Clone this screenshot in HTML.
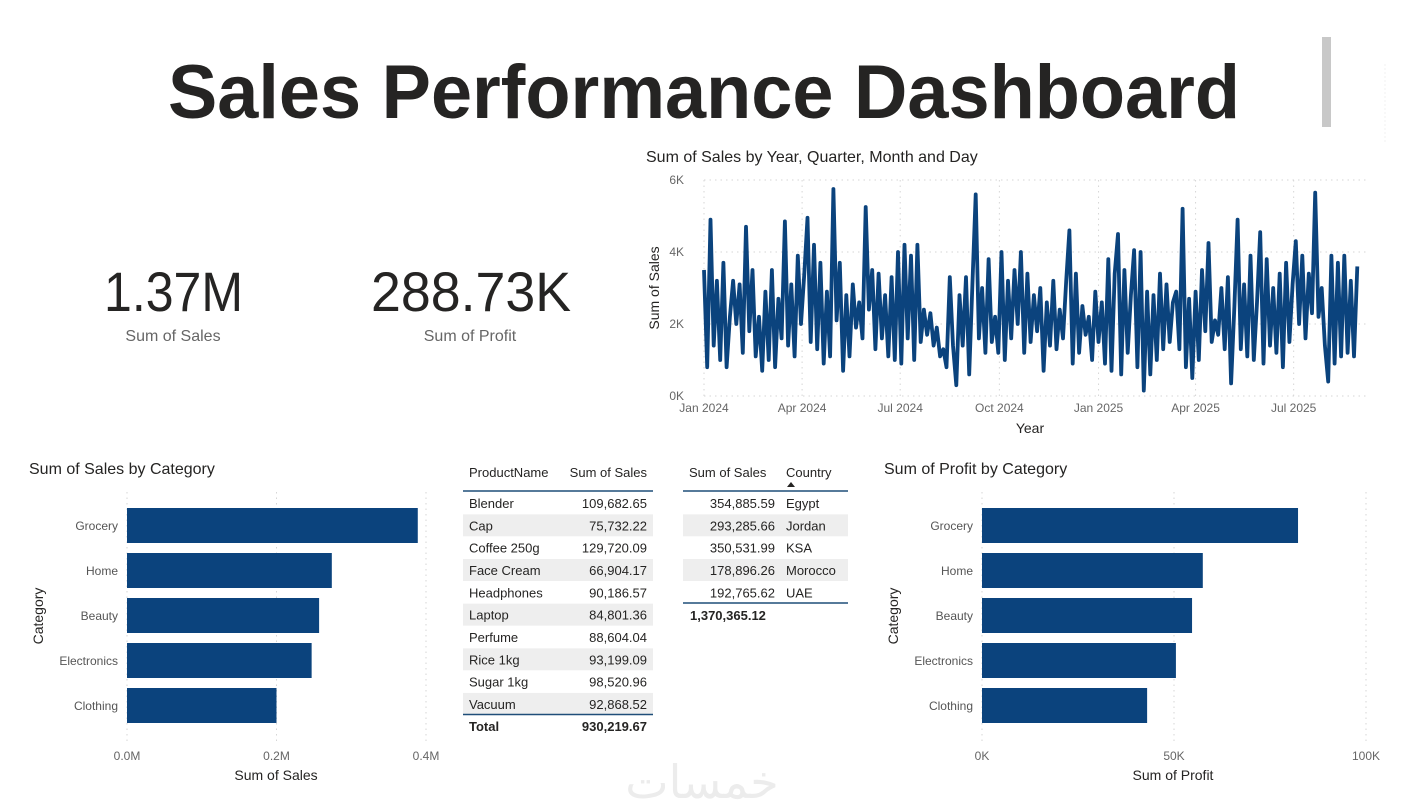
<!DOCTYPE html>
<html><head><meta charset="utf-8"><style>
html,body{margin:0;padding:0;background:#fff;}
svg{display:block;font-family:"Liberation Sans","Noto Sans CJK SC",sans-serif;}
</style></head><body>
<svg id="dash" width="1408" height="810" viewBox="0 0 1408 810" xmlns="http://www.w3.org/2000/svg">
<rect x="0" y="0" width="1408" height="810" fill="#fff"/>
<text x="168" y="118" font-size="76" font-weight="bold" fill="#252423" textLength="1072" lengthAdjust="spacingAndGlyphs">Sales Performance Dashboard</text>
<rect x="1322" y="37" width="9" height="90" fill="#c8c8c8"/>
<line x1="1385" y1="64" x2="1385" y2="144" stroke="#f0f0f0" stroke-dasharray="2,2"/>

<g>
<text x="104" y="311" font-size="56" fill="#252423" textLength="139" lengthAdjust="spacingAndGlyphs">1.37M</text>
<text x="173" y="341" font-size="16" fill="#666" text-anchor="middle">Sum of Sales</text>
</g>
<g>
<text x="371" y="311" font-size="56" fill="#252423" textLength="200" lengthAdjust="spacingAndGlyphs">288.73K</text>
<text x="470" y="341" font-size="16" fill="#666" text-anchor="middle">Sum of Profit</text>
</g>

<g id="line-chart">
<text x="646" y="162" font-size="16" fill="#252423">Sum of Sales by Year, Quarter, Month and Day</text>
<text x="1030" y="433" font-size="14" fill="#252423" text-anchor="middle">Year</text>
<text transform="translate(659,288) rotate(-90)" font-size="14" fill="#252423" text-anchor="middle">Sum of Sales</text>
</g>

<g id="bar-sales">
<text x="29" y="474" font-size="16" fill="#252423">Sum of Sales by Category</text>
<text transform="translate(43,616) rotate(-90)" font-size="14" fill="#252423" text-anchor="middle">Category</text>
<text x="276" y="780" font-size="14" fill="#252423" text-anchor="middle">Sum of Sales</text>
</g>
<g id="bar-profit">
<text x="884" y="474" font-size="16" fill="#252423">Sum of Profit by Category</text>
<text transform="translate(898,616) rotate(-90)" font-size="14" fill="#252423" text-anchor="middle">Category</text>
<text x="1173" y="780" font-size="14" fill="#252423" text-anchor="middle">Sum of Profit</text>
</g>

<g id="table-products"></g>
<g id="table-country"></g>

<text x="702" y="798" font-size="46" fill="#ececec" text-anchor="middle" font-family="'Noto Sans CJK SC',sans-serif">خمسات</text>
</svg>
<script>
const NS='http://www.w3.org/2000/svg';
function mk(parent,tag,attrs,text){const e=document.createElementNS(NS,tag);for(const k in attrs)e.setAttribute(k,attrs[k]);if(text!==undefined)e.textContent=text;parent.appendChild(e);return e;}

// ---- Line chart data (thousands, 3-day steps from Jan 1 2024) ----
const dailySalesK=[3.5,0.8,4.9,1.4,3.2,1.0,3.7,0.8,2.2,3.2,
2.0,3.1,1.2,4.7,1.8,3.5,1.1,2.2,0.7,2.9,
1.0,3.5,0.8,2.7,1.6,4.85,1.4,3.1,1.1,3.9,
2.0,3.4,4.95,1.5,4.2,1.3,3.7,0.9,2.9,1.1,
5.75,2.1,3.7,0.7,2.8,1.1,3.1,1.9,2.6,1.6,
5.25,2.4,3.5,1.3,3.4,1.6,2.8,1.1,3.3,1.0,
4.0,0.9,4.2,1.6,3.9,1.0,4.2,1.5,2.4,1.7,
2.3,1.4,1.9,1.1,1.3,0.8,3.3,1.4,0.3,2.8,
1.4,3.3,0.6,3.1,5.6,1.6,3.0,1.2,3.8,1.5,
2.2,1.2,4.0,1.0,3.2,1.6,3.5,2.0,4.0,1.2,
3.4,1.5,2.8,1.8,3.0,0.7,2.6,1.4,3.2,1.3,
2.4,1.6,3.2,4.6,0.9,3.4,1.2,2.5,1.7,2.2,
1.0,2.9,1.5,2.6,0.9,3.8,0.7,3.4,4.5,0.6,
3.5,1.2,2.8,4.05,0.8,4.0,0.15,2.9,0.6,2.8,
1.0,3.4,1.3,3.1,1.5,2.6,2.9,1.3,5.2,0.8,
2.7,0.5,2.9,1.0,3.5,1.8,4.25,1.5,2.1,1.7,
3.0,1.3,3.3,0.35,2.5,4.9,1.3,3.1,1.1,3.9,
1.0,2.6,4.55,0.9,3.8,1.4,3.0,1.2,3.4,0.8,
3.7,1.5,3.1,4.3,2.0,3.9,1.6,3.4,2.3,5.65,
2.2,3.0,1.4,0.4,3.9,0.9,3.7,1.1,3.9,1.2,
3.2,1.1,3.6];
const dayStep=3;
const yTicksK=[0,2,4,6];
const yTickLabels=['0K','2K','4K','6K'];
const xTickDays=[0,91,182,274,366,456,547];
const xTickLabels=['Jan 2024','Apr 2024','Jul 2024','Oct 2024','Jan 2025','Apr 2025','Jul 2025'];

// ---- Bar chart data ----
const categories=['Grocery','Home','Beauty','Electronics','Clothing'];
const salesByCategoryM=[0.389,0.274,0.257,0.247,0.200];
const salesTicks=[0,0.2,0.4];
const salesTickLabels=['0.0M','0.2M','0.4M'];
const profitByCategoryK=[82.3,57.5,54.7,50.5,43.0];
const profitTicks=[0,50,100];
const profitTickLabels=['0K','50K','100K'];

// ---- Table data ----
const products=['Blender','Cap','Coffee 250g','Face Cream','Headphones','Laptop','Perfume','Rice 1kg','Sugar 1kg','Vacuum'];
const productSales=['109,682.65','75,732.22','129,720.09','66,904.17','90,186.57','84,801.36','88,604.04','93,199.09','98,520.96','92,868.52'];
const countries=['Egypt','Jordan','KSA','Morocco','UAE'];
const countrySales=['354,885.59','293,285.66','350,531.99','178,896.26','192,765.62'];

// Line chart
(function(){
  const g=document.getElementById('line-chart');
  const x0=704,pxPerDay=1.078,yBase=396,pxPerK=36;
  const xs=d=>x0+d*pxPerDay, ys=v=>yBase-v*pxPerK;
  yTicksK.forEach((t,i)=>{
    const l=mk(g,'line',{x1:704,x2:1366,y1:ys(t),y2:ys(t),stroke:'#d6d6d6','stroke-dasharray':'1.5,4'});
    
    
    const tx=mk(g,'text',{x:684,y:ys(t)+4,'font-size':12,fill:'#666','text-anchor':'end'},yTickLabels[i]);
    
    
  });
  xTickDays.forEach((d,i)=>{
    const l=mk(g,'line',{x1:xs(d),x2:xs(d),y1:180,y2:396,stroke:'#d6d6d6','stroke-dasharray':'1.5,4'});
    
    
    const tx=mk(g,'text',{x:xs(d),y:412,'font-size':12,fill:'#666','text-anchor':'middle'},xTickLabels[i]);
    
    
  });
  const pts=dailySalesK.map((v,i)=>xs(i*dayStep).toFixed(1)+','+ys(v).toFixed(1)).join(' ');
  const pl=mk(g,'polyline',{points:pts,fill:'none',stroke:'#0b437d','stroke-width':3.8,'stroke-linejoin':'round'});
  
  
})();

function barChart(gid,values,ticks,tickLabels,x0,pxPerUnit,labelX){
  const g=document.getElementById(gid);
  ticks.forEach((t,i)=>{
    const x=x0+t*pxPerUnit;
    const l=mk(g,'line',{x1:x,x2:x,y1:492,y2:742,stroke:'#d6d6d6','stroke-dasharray':'1.5,4'});
    
    
    const tx=mk(g,'text',{x:x,y:760,'font-size':12,fill:'#666','text-anchor':'middle'},tickLabels[i]);
    
    
  });
  categories.forEach((c,i)=>{
    const yTop=508+i*45;
    const r=mk(g,'rect',{x:x0,y:yTop,width:values[i]*pxPerUnit,height:35,fill:'#0b437d'});
    
    
    const tx=mk(g,'text',{x:labelX,y:yTop+22,'font-size':12,fill:'#555','text-anchor':'end'},c);
    
    
  });
}
barChart('bar-sales',salesByCategoryM,salesTicks,salesTickLabels,127,747.5,118);
barChart('bar-profit',profitByCategoryK,profitTicks,profitTickLabels,982,3.84,973);

// Product table
(function(){
  const g=document.getElementById('table-products');
  const h1=mk(g,'text',{x:469,y:477,'font-size':13,fill:'#252423'},'ProductName');
  
  
  const h2=mk(g,'text',{x:647,y:477,'font-size':13,fill:'#252423','text-anchor':'end'},'Sum of Sales');
  
  
  products.forEach((p,i)=>{
    const cy=503+i*22.33;
    if(i%2===1){const r=mk(g,'rect',{x:463,y:cy-11,width:190,height:22,fill:'#eeeeee'});
      
      }
    const a=mk(g,'text',{x:469,y:cy+5,'font-size':13,fill:'#252423'},p);
    
    
    const b=mk(g,'text',{x:647,y:cy+5,'font-size':13,fill:'#252423','text-anchor':'end'},productSales[i]);
    
    
  });
  const l1=mk(g,'line',{x1:463,x2:653,y1:491,y2:491,stroke:'#1f4e79','stroke-width':1.5});
  
  
  const l2=mk(g,'line',{x1:463,x2:653,y1:714.5,y2:714.5,stroke:'#1f4e79','stroke-width':1.5});
  
  
  const t1=mk(g,'text',{x:469,y:731,'font-size':13,'font-weight':'bold',fill:'#252423'},'Total');
  
  
  const t2=mk(g,'text',{x:647,y:731,'font-size':13,'font-weight':'bold',fill:'#252423','text-anchor':'end'},'930,219.67');
  
  
})();

// Country table
(function(){
  const g=document.getElementById('table-country');
  const h1=mk(g,'text',{x:689,y:477,'font-size':13,fill:'#252423'},'Sum of Sales');
  
  
  const h2=mk(g,'text',{x:786,y:477,'font-size':13,fill:'#252423'},'Country');
  
  
  const ar=mk(g,'polygon',{points:'787,487 795,487 791,482',fill:'#252423'});
  
  
  countries.forEach((c,i)=>{
    const cy=503+i*22.33;
    if(i%2===1){const r=mk(g,'rect',{x:683,y:cy-11,width:165,height:22,fill:'#eeeeee'});
      
      }
    const a=mk(g,'text',{x:775,y:cy+5,'font-size':13,fill:'#252423','text-anchor':'end'},countrySales[i]);
    
    
    const b=mk(g,'text',{x:786,y:cy+5,'font-size':13,fill:'#252423'},c);
    
    
  });
  const l1=mk(g,'line',{x1:683,x2:848,y1:491,y2:491,stroke:'#1f4e79','stroke-width':1.5});
  
  
  const l2=mk(g,'line',{x1:683,x2:848,y1:603,y2:603,stroke:'#1f4e79','stroke-width':1.5});
  
  
  const t=mk(g,'text',{x:690,y:620,'font-size':13,'font-weight':'bold',fill:'#252423'},'1,370,365.12');
  
  
})();
</script>
</body></html>
